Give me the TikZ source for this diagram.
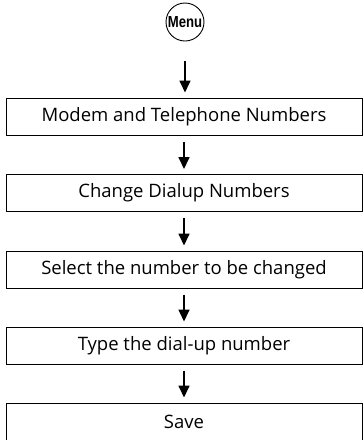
\documentclass[tikz,border=0pt]{standalone}
\usepackage{fontspec}
\setmainfont{Open Sans}
\newfontfamily\menufont{Liberation Sans}
\usetikzlibrary{arrows.meta, positioning}

\begin{document}
\begin{tikzpicture}[x=1pt, y=-1pt,
  stepbox/.style={rectangle, draw=black, line width=1pt, fill=white, minimum width=356pt, minimum height=37pt, align=center, font=\fontsize{18.5}{21}\selectfont},
  menu/.style={circle, draw=black, line width=0.9pt, minimum size=38pt, inner sep=0pt, font=\menufont\bfseries\fontsize{16}{18}\selectfont},
  arr/.style={-{Triangle[width=11pt, length=12pt]}, line width=1.7pt, shorten <=6pt, shorten >=5pt}
]
\useasboundingbox (0,0) rectangle (364,440);

\node[menu] (menu) at (185,22) {\scalebox{0.82}[1]{Menu}};
\node[stepbox] (modem) at (184,116.5) {Modem and Telephone Numbers};
\node[stepbox] (dialup) at (184,193) {Change Dialup Numbers};
\node[stepbox] (select) at (184,269.5) {Select the number to be changed};
\node[stepbox] (type) at (184,345.5) {Type the dial-up number};
\node[stepbox] (save) at (184,421.5) {Save};

\draw[arr, shorten <=20pt] (menu.south) -- (menu.south |- modem.north);
\draw[arr] (modem) -- (dialup);
\draw[arr] (dialup) -- (select);
\draw[arr] (select) -- (type);
\draw[arr] (type) -- (save);
\end{tikzpicture}
\end{document}
